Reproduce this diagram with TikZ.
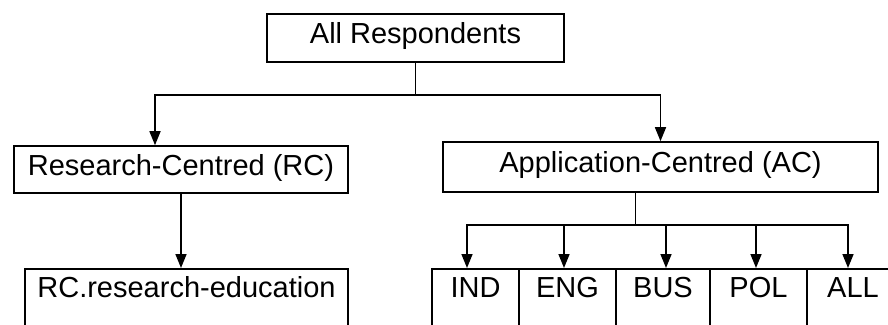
\documentclass[tikz,border=0pt]{standalone}
\usepackage{fontspec}
\setmainfont{Liberation Sans}
\usetikzlibrary{arrows.meta}
\tikzset{
  caja/.style={draw, line width=1.6pt, font=\fontsize{29pt}{34pt}\selectfont,
    text height=21pt, text depth=10pt, inner xsep=0pt, inner ysep=8pt},
  hoja/.style={draw, line width=1.6pt, font=\fontsize{29pt}{34pt}\selectfont,
    anchor=north, text height=21pt, text depth=40pt, inner xsep=0pt, inner ysep=8pt},
  flecha/.style={line width=1.6pt, -{Triangle[width=11pt,length=14pt]}}
}
\begin{document}
\begin{tikzpicture}[x=1pt,y=-1pt]
        \useasboundingbox (0,0) rectangle (888,324);
        \clip (0,0) rectangle (888,324);
        % Cajas
        \node[caja, minimum width=297pt, minimum height=48pt] (todos) at (415.5,38) {All Respondents};
        \node[caja, minimum width=334pt, minimum height=47pt] (rc) at (181,169.5) {Research-Centred (RC)};
        \node[caja, minimum width=435pt, minimum height=50pt] (ac) at (660.5,167) {Application-Centred (AC)};
        % Hojas
        \node[hoja, minimum width=323pt] (rcre) at (186.5,268) {RC.research-education};
        \foreach \t/\x/\w in {IND/475.5/87, ENG/567.5/97, BUS/663/94, POL/758.5/97, ALL/853/92}
            \node[hoja, minimum width=\w pt] (\t) at (\x,268) {\t};
        % Flechas
        \draw[line width=1.6pt] (todos.south) -- ++(0,32) coordinate (rama);
        \draw[flecha] (rama) -| ([xshift=-26pt]rc.north);
        \draw[flecha] (rama) -| (ac.north);
        \draw[flecha] (rc.south) -- (rc.south |- rcre.north);
        \draw[line width=1.6pt] ([xshift=-25pt]ac.south) -- ++(0,32) coordinate (rama2);
        \foreach \t/\d in {IND/-8.5, ENG/-3.5, BUS/3, POL/-2.5, ALL/-5}
            \draw[flecha] (rama2) -| ([xshift=\d pt]\t.north);
    \end{tikzpicture}
\end{document}
